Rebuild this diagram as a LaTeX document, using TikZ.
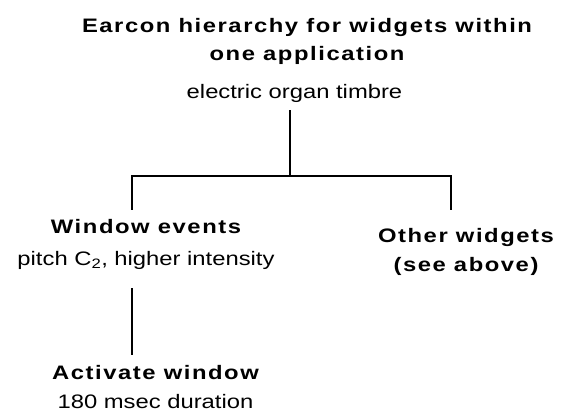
\documentclass[tikz,border=0pt]{standalone}
\usepackage{fontspec}
\setmainfont{Liberation Sans}[FakeStretch=1.22]
\newfontfamily\headfont{Liberation Sans}[FakeStretch=1.22,LetterSpace=8]
\newcommand\hd[1]{{\headfont\bfseries\fontsize{19.5}{29}\selectfont #1}}
\tikzset{
  label/.style={font=\fontsize{19.5}{29}\selectfont,inner sep=0pt,outer sep=0pt,align=center,anchor=base},
  tree/.style={draw=black,line width=2.6pt}
}

\begin{document}
\begin{tikzpicture}[x=1pt,y=-1pt]
\useasboundingbox (0,0) rectangle (561,412);
\node[label] (title) at (307,60) {\hd{Earcon hierarchy for widgets within}\\[-1pt]\hd{one application}};
\node[label] (timbre) at (294.5,98) {electric organ timbre};
\node[label] (window) at (146,265) {\hd{Window events}\\[3pt]pitch C\textsubscript{2}, higher intensity};
\node[label] (activate) at (155.5,408) {\hd{Activate window}\\180 msec duration};
\node[label] (other) at (466,271.5) {\hd{Other widgets}\\\hd{(see above)}};
% branch points of the tree
\coordinate (split) at (290,176);
\coordinate (left) at (132,176);
\coordinate (right) at (451,176);
\draw[tree,shorten <=8pt] (timbre.south -| split) -- (split);
\draw[tree,shorten <=9pt,shorten >=18.5pt] (window.north -| left) -- (left) -- (right) -- (other.north -| right);
\draw[tree,shorten <=19pt,shorten >=10pt] (window.south -| left) -- (activate.north -| left);
\end{tikzpicture}
\end{document}
